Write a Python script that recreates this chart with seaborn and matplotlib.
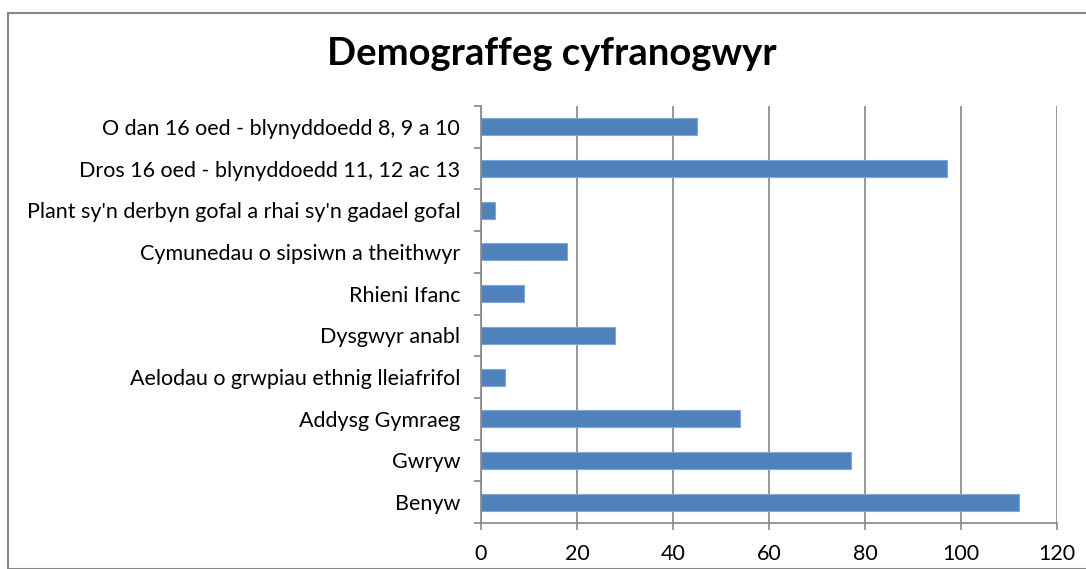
import matplotlib
matplotlib.use("Agg")
import matplotlib.pyplot as plt
import seaborn as sns
import pandas as pd
from matplotlib.patches import Rectangle

categories = [
    "O dan 16 oed - blynyddoedd 8, 9 a 10",
    "Dros 16 oed - blynyddoedd 11, 12 ac 13",
    "Plant sy'n derbyn gofal a rhai sy'n gadael gofal",
    "Cymunedau o sipsiwn a theithwyr",
    "Rhieni Ifanc",
    "Dysgwyr anabl",
    "Aelodau o grwpiau ethnig lleiafrifol",
    "Addysg Gymraeg",
    "Gwryw",
    "Benyw",
]
values = [45, 97, 3, 18, 9, 28, 5, 54, 77, 112]
x_ticks = [0, 20, 40, 60, 80, 100, 120]
title = "Demograffeg cyfranogwyr"

sns.set_style("white")
plt.rcParams["font.family"] = ["Lato", "DejaVu Sans"]
plt.rcParams["text.color"] = "black"

df = pd.DataFrame({"cat": categories, "val": values})

fig = plt.figure(figsize=(10.86, 5.69), dpi=100)
ax = fig.add_axes([481/1086, 1-523/569, (1057-481)/1086, (523-106)/569])

sns.barplot(data=df, y="cat", x="val", orient="h", color="#4F81BD",
            width=0.41, edgecolor="#7FA6D6", linewidth=0.8, saturation=1, ax=ax)

ax.set_xlim(0, 120)
ax.set_ylim(len(categories)-0.5, -0.5)
ax.set_xticks(x_ticks)
ax.set_xticklabels([str(t) for t in x_ticks], fontsize=15.5, color="black")
ax.set_yticks([i for i in range(len(categories))])
ax.set_yticklabels(categories, fontsize=15.5, color="black")
ax.set_xlabel("")
ax.set_ylabel("")
ax.grid(axis="x", color="#868686", linewidth=1.2)
ax.set_axisbelow(True)
for s in ["top", "right"]:
    ax.spines[s].set_visible(False)
for s in ["left", "bottom"]:
    ax.spines[s].set_color("#868686")
    ax.spines[s].set_linewidth(1.2)

# y ticks at category boundaries (outside), labels centred on bars
ax.set_yticks([i - 0.5 for i in range(len(categories)+1)], minor=True)
ax.tick_params(axis="y", which="major", left=True, length=0, pad=15)
ax.tick_params(axis="y", which="minor", left=True, length=5, color="#868686", width=1.2, direction="out")
ax.tick_params(axis="x", which="major", bottom=True, length=5, color="#868686", width=1.2, direction="out", pad=10)

fig.text(0.508, 0.905, title, ha="center", va="center", fontsize=27.5, fontweight="bold", color="black")

frame = Rectangle((8/1086, 0), 1.2, 1-13/569, transform=fig.transFigure,
                  fill=False, edgecolor="#868686", linewidth=1.5)
fig.add_artist(frame)

fig.savefig("out.png", dpi=100)
